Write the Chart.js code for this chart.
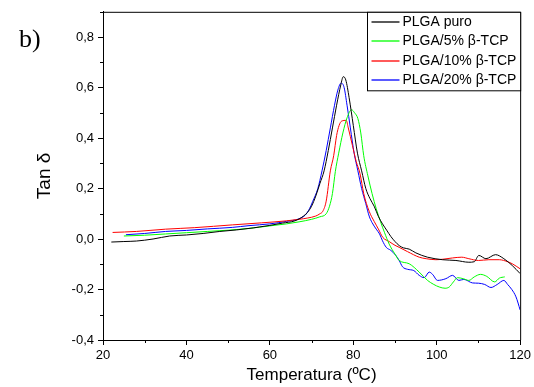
<!DOCTYPE html>
<html>
<head>
<meta charset="utf-8">
<script src="https://cdn.jsdelivr.net/npm/chart.js@4.4.0/dist/chart.umd.min.js"></script>
<style>
  html, body { margin: 0; padding: 0; background: #fff; }
  #box { width: 534px; height: 387px; position: relative; }
</style>
</head>
<body>
<div id="box"><canvas id="myChart"></canvas></div>
<script>
// series names and colours
var seriesNames = ['PLGA puro', 'PLGA/5% \u03b2-TCP', 'PLGA/10% \u03b2-TCP', 'PLGA/20% \u03b2-TCP'];
var seriesColors = ['#000000', '#00ff00', '#ff0000', '#0000ff'];

// PLGA puro
var tempPuro = [22, 25, 28, 32, 36, 40, 44, 48, 52, 56, 60, 63, 66, 68, 69, 70, 71, 72, 73, 74, 75, 76, 77, 77.6, 78.2, 79, 80, 81, 82, 83, 84, 85, 86, 87, 88, 89, 90, 91, 92, 93.4, 95, 97.8, 101.4, 104.6, 107.7, 109, 110.1, 111.8, 114.1, 116.1, 118.1, 120];
var tanPuro = [-0.012, -0.01, -0.008, 0.0, 0.012, 0.016, 0.022, 0.03, 0.036, 0.044, 0.054, 0.063, 0.072, 0.09, 0.105, 0.13, 0.17, 0.22, 0.27, 0.35, 0.44, 0.53, 0.61, 0.643, 0.63, 0.56, 0.45, 0.34, 0.27, 0.2, 0.16, 0.13, 0.09, 0.06, 0.035, 0.01, -0.01, -0.026, -0.035, -0.04, -0.055, -0.072, -0.082, -0.085, -0.092, -0.09, -0.065, -0.078, -0.062, -0.078, -0.105, -0.137];

// PLGA/5% b-TCP
var temp5 = [25, 30, 35, 40, 45, 50, 55, 60, 64, 67, 70, 72, 73.5, 74.3, 75, 75.7, 76.5, 77.5, 78.5, 79.6, 80.3, 81.1, 81.8, 82.5, 83.5, 84.5, 85.5, 86.5, 87.5, 88.6, 90, 91, 93.4, 95.8, 97.8, 99.3, 100.6, 102, 103, 104, 105, 106.5, 107.7, 109, 110.5, 112, 113.9, 115, 116.3];
var tan5 = [0.012, 0.015, 0.02, 0.025, 0.03, 0.035, 0.042, 0.052, 0.06, 0.068, 0.078, 0.088, 0.1, 0.13, 0.18, 0.268, 0.34, 0.42, 0.48, 0.512, 0.5, 0.477, 0.42, 0.33, 0.25, 0.18, 0.12, 0.07, 0.025, -0.02, -0.06, -0.085, -0.098, -0.131, -0.164, -0.18, -0.19, -0.195, -0.19, -0.17, -0.153, -0.158, -0.164, -0.15, -0.14, -0.148, -0.17, -0.155, -0.15];

// PLGA/10% b-TCP
var temp10 = [22.3, 28, 35, 42, 51, 58, 64, 67, 69, 71, 72, 72.7, 73.5, 74.5, 75.3, 76, 76.6, 77.2, 78.3, 78.8, 79.8, 80.7, 81.6, 82.5, 83.8, 85, 86, 87.1, 88.6, 90, 91, 93, 95.8, 97.5, 99.8, 101.5, 103.8, 106, 107.7, 110, 112.5, 115, 117, 118.1, 120];
var tan10 = [0.026, 0.03, 0.039, 0.045, 0.056, 0.064, 0.072, 0.078, 0.083, 0.091, 0.1, 0.11, 0.15, 0.27, 0.33, 0.41, 0.45, 0.467, 0.47, 0.44, 0.37, 0.307, 0.26, 0.18, 0.11, 0.07, 0.04, 0.006, -0.01, -0.025, -0.033, -0.05, -0.072, -0.078, -0.082, -0.08, -0.075, -0.072, -0.078, -0.085, -0.082, -0.082, -0.09, -0.098, -0.118];

// PLGA/20% b-TCP
var temp20 = [25.5, 30, 35, 40, 45, 51, 55, 60, 64, 67, 68.5, 69.5, 70.3, 71.5, 72.5, 73.5, 74.5, 75.5, 76.3, 77.1, 77.8, 78.5, 79.3, 80.2, 81.1, 82, 83, 83.8, 84.5, 85.5, 86.3, 87, 87.9, 89, 90.2, 91, 91.8, 93, 94.5, 95.8, 97, 98.2, 99, 100.2, 102.2, 103.8, 105.3, 106.5, 108.6, 110, 111.5, 113, 114.5, 116.1, 117, 118, 119, 120];
var tan20 = [0.017, 0.022, 0.03, 0.034, 0.04, 0.046, 0.053, 0.06, 0.07, 0.08, 0.095, 0.12, 0.15, 0.2, 0.27, 0.35, 0.44, 0.53, 0.59, 0.618, 0.6, 0.53, 0.44, 0.34, 0.27, 0.2, 0.14, 0.091, 0.065, 0.039, 0.02, -0.007, -0.033, -0.045, -0.065, -0.085, -0.11, -0.12, -0.125, -0.144, -0.153, -0.131, -0.14, -0.164, -0.157, -0.144, -0.164, -0.16, -0.174, -0.175, -0.18, -0.192, -0.18, -0.164, -0.18, -0.2, -0.229, -0.281];

// axis ranges / ticks
var xMin = 20, xMax = 120, xMinorStep = 10, xLabelStep = 20;
var yMin = -0.4, yMax = 0.9, yMinorStep = 0.1, yLabelStep = 0.2, yLabelMax = 0.8;

function toPoints(xs, ys) {
    var pts = [];
    for (var i = 0; i < xs.length; i++) pts.push({x: xs[i], y: ys[i]});
    return pts;
}

function isXMajor(v) { return Math.abs((v - xMin) % xLabelStep) < 1e-6; }
function isYMajor(v) { return Math.round(v * 10) % Math.round(yLabelStep * 10) === 0; }

var allTemps = [tempPuro, temp5, temp10, temp20];
var allTans = [tanPuro, tan5, tan10, tan20];
var datasets = [];
for (var i = 0; i < seriesNames.length; i++) {
    datasets.push({
        label: seriesNames[i],
        data: toPoints(allTemps[i], allTans[i]),
        borderColor: seriesColors[i],
        backgroundColor: seriesColors[i],
        borderWidth: 1,
        pointRadius: 0,
        fill: false,
        cubicInterpolationMode: 'monotone'
    });
}

// top + right frame of the plot box, and the short minor ticks
var framePlugin = {
    id: 'frame',
    afterDraw: function (chart) {
        var a = chart.chartArea, c = chart.ctx;
        var sx = chart.scales.x, sy = chart.scales.y;
        c.save();
        c.strokeStyle = '#000';
        c.lineWidth = 1;
        c.beginPath();
        c.moveTo(a.left, a.top + 0.5);
        c.lineTo(a.right + 0.5, a.top + 0.5);
        c.lineTo(a.right + 0.5, a.bottom);
        c.stroke();
        c.beginPath();
        sx.ticks.forEach(function (t) {
            if (isXMajor(t.value)) return;
            var px = Math.round(sx.getPixelForValue(t.value)) + 0.5;
            c.moveTo(px, a.bottom);
            c.lineTo(px, a.bottom + 3);
        });
        sy.ticks.forEach(function (t) {
            if (isYMajor(t.value)) return;
            var py = Math.round(sy.getPixelForValue(t.value)) + 0.5;
            c.moveTo(a.left, py);
            c.lineTo(a.left - 3, py);
        });
        c.stroke();
        c.restore();
    }
};

// legend box in the upper right corner
var legendPlugin = {
    id: 'boxLegend',
    afterDraw: function (chart) {
        var a = chart.chartArea, c = chart.ctx;
        var left = 367.5, top = a.top + 0.5, right = a.right + 0.5, rowH = 19.5;
        var ds = chart.data.datasets;
        c.save();
        c.fillStyle = '#fff';
        c.fillRect(left, top, right - left, ds.length * rowH + 0.5);
        c.strokeStyle = '#000';
        c.lineWidth = 1;
        c.strokeRect(left, top, right - left, ds.length * rowH + 0.5);
        c.font = '14px "Liberation Sans", Arial, sans-serif';
        c.textBaseline = 'middle';
        for (var i = 0; i < ds.length; i++) {
            var y = Math.round(top + 9.5 + i * rowH);
            c.strokeStyle = ds[i].borderColor;
            c.lineWidth = 1.3;
            c.beginPath();
            c.moveTo(left + 4, y);
            c.lineTo(left + 32, y);
            c.stroke();
            c.fillStyle = '#000';
            c.fillText(ds[i].label, left + 35, y);
        }
        c.restore();
    }
};

// panel letter
var letterPlugin = {
    id: 'letter',
    afterDraw: function (chart) {
        var c = chart.ctx;
        c.save();
        c.fillStyle = '#000';
        c.font = '26px "Liberation Serif", "Times New Roman", serif';
        c.textBaseline = 'alphabetic';
        c.fillText('b)', 19, 47);
        c.restore();
    }
};

var ctx = document.getElementById('myChart').getContext('2d');
var chart = new Chart(ctx, {
    type: 'line',
    data: { datasets: datasets },
    options: {
        responsive: true,
        maintainAspectRatio: false,
        animation: false,
        layout: { padding: { top: 9, right: 13, left: 0, bottom: 0 } },
        plugins: { legend: { display: false }, tooltip: { enabled: false } },
        scales: {
            x: {
                type: 'linear',
                min: xMin,
                max: xMax,
                afterFit: function (s) { s.height = 47; },
                border: { color: '#000', width: 1 },
                grid: {
                    drawOnChartArea: false,
                    tickLength: 5,
                    color: '#000',
                    tickColor: function (c) { return isXMajor(c.tick.value) ? '#000' : 'rgba(0,0,0,0)'; }
                },
                ticks: {
                    stepSize: xMinorStep,
                    color: '#000',
                    padding: 3,
                    maxRotation: 0,
                    font: { family: '"Liberation Sans", Arial, sans-serif', size: 13 },
                    callback: function (v) { return isXMajor(v) ? String(v) : ''; }
                },
                title: {
                    display: true,
                    text: 'Temperatura (\u00baC)',
                    color: '#000',
                    font: { family: '"Liberation Sans", Arial, sans-serif', size: 17, lineHeight: 1 },
                    padding: { top: 0, bottom: 3 }
                }
            },
            y: {
                min: yMin,
                max: yMax,
                afterFit: function (s) { s.width = 103; },
                border: { color: '#000', width: 1 },
                grid: {
                    drawOnChartArea: false,
                    tickLength: 5,
                    color: '#000',
                    tickColor: function (c) { return isYMajor(c.tick.value) ? '#000' : 'rgba(0,0,0,0)'; }
                },
                ticks: {
                    stepSize: yMinorStep,
                    color: '#000',
                    padding: 4,
                    font: { family: '"Liberation Sans", Arial, sans-serif', size: 13 },
                    callback: function (v) {
                        if (!isYMajor(v) || v > yLabelMax + 0.001) return '';
                        return (Math.round(v * 10) / 10).toFixed(1).replace('.', ',');
                    }
                },
                title: {
                    display: true,
                    text: 'Tan \u03b4',
                    color: '#000',
                    font: { family: '"Liberation Sans", Arial, sans-serif', size: 19, lineHeight: 1 },
                    padding: { top: 35, bottom: 0 }
                }
            }
        }
    },
    plugins: [framePlugin, legendPlugin, letterPlugin]
});
</script>
</body>
</html>
